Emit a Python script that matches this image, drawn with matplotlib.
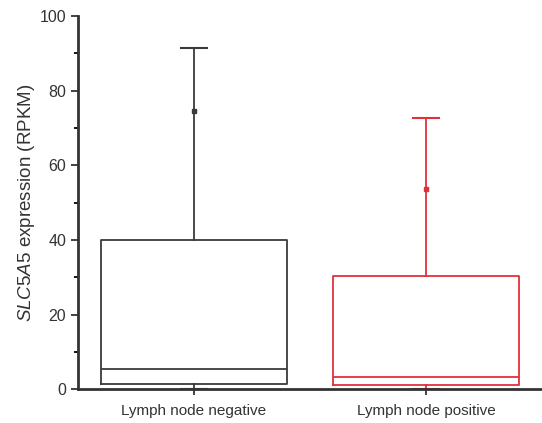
import matplotlib.pyplot as plt
from matplotlib.ticker import MultipleLocator

plt.rcParams["font.family"] = ["Liberation Sans", "DejaVu Sans"]
plt.rcParams["mathtext.fontset"] = "custom"
plt.rcParams["mathtext.it"] = "Liberation Sans:italic"
plt.rcParams["mathtext.rm"] = "Liberation Sans"

# Box statistics (RPKM)
groups = ["Lymph node negative", "Lymph node positive"]
q1 = [1.4, 1.0]
median = [5.4, 3.2]
q3 = [40.0, 30.2]
whisker_low = [0.0, 0.0]
whisker_high = [91.4, 72.8]
marker_vals = [74.6, 53.6]
colors = ["#3a3a3a", "#e0303c"]

fig = plt.figure(figsize=(5.42, 4.23), dpi=100)
ax = fig.add_axes([0.144, 0.08, 0.856, 0.882])

positions = [1, 2]
for i, pos in enumerate(positions):
    stats = [{
        "q1": q1[i], "med": median[i], "q3": q3[i],
        "whislo": whisker_low[i], "whishi": whisker_high[i],
        "label": groups[i], "fliers": [],
    }]
    c = colors[i]
    ax.bxp(stats, positions=[pos], widths=0.8, showfliers=False,
           boxprops=dict(color=c, linewidth=1.3),
           medianprops=dict(color=c, linewidth=1.3),
           whiskerprops=dict(color=c, linewidth=1.3),
           capprops=dict(color=c, linewidth=1.5),
           capwidths=0.11)
    ax.plot(pos, marker_vals[i], marker="s", markersize=2.5, color=c)

ax.set_xlim(0.5, 2.5)
ax.set_ylim(0, 100)
ax.set_xticks(positions)
ax.set_xticklabels(groups, fontsize=11)
ax.yaxis.set_major_locator(MultipleLocator(20))
ax.yaxis.set_minor_locator(MultipleLocator(10))
ax.tick_params(axis="y", labelsize=11.5, length=5, width=1.3, colors="#333333")
ax.tick_params(axis="y", which="minor", length=3, width=1.3)
ax.tick_params(axis="x", length=4, width=1.3, colors="#333333", pad=7)
ax.set_ylabel(r"$\mathit{SLC5A5}$ expression (RPKM)", fontsize=13.5,
              color="#333333", labelpad=2)

for side in ["top", "right"]:
    ax.spines[side].set_visible(False)
for side in ["left", "bottom"]:
    ax.spines[side].set_linewidth(2)
    ax.spines[side].set_color("#333333")

fig.savefig("out.png", dpi=100)
